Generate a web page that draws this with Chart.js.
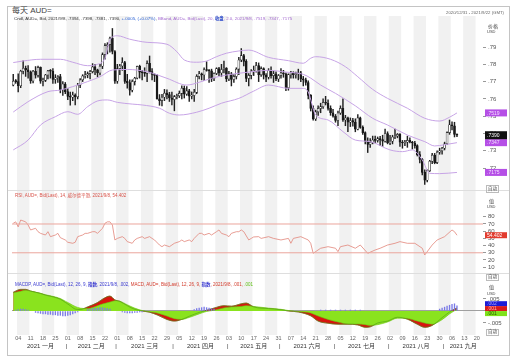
<!DOCTYPE html>
<html>
<head>
<meta charset="utf-8">
<title>AUD= daily</title>
<script src="https://cdn.jsdelivr.net/npm/chart.js@4.4.1/dist/chart.umd.min.js"></script>
<style>
  body { margin: 0; background: #fff; }
  #page { position: relative; width: 514px; height: 362px; overflow: hidden;
          font-family: "Liberation Sans", "Noto Sans CJK SC", sans-serif; color: #333; }
  .frame { position: absolute; left: 7px; top: 6px; width: 503px; height: 350px;
           border: 1px solid #c4c4c4; box-sizing: border-box; }
  .sep { position: absolute; left: 8px; width: 501px; height: 1px; background: #dedede; }
  canvas { position: absolute; left: 0; }
  .txt { position: absolute; white-space: nowrap; line-height: 1; }
  .btn { position: absolute; font-size: 4.5px; line-height: 1; padding: 0.5px 1px;
         border: 0.5px solid #bbb; color: #444; }
</style>
</head>
<body>
<div id="page">
  <div class="frame"></div>
  <canvas id="price" width="514" height="174" style="top:16px"></canvas>
  <canvas id="rsi" width="514" height="83" style="top:190px"></canvas>
  <canvas id="macd" width="514" height="82" style="top:273px"></canvas>
  <div class="sep" style="top:190px"></div>
  <div class="sep" style="top:273px"></div>

  <div class="txt" style="left:12px;top:7px;font-size:8px;color:#444">每天 AUD=</div>
  <div class="txt" style="left:14px;top:17px;font-size:4.4px;color:#333">Cndl, AUD=, Bid, 2021/9/8, .7394, .7398, .7381, .7390, <span style="color:#2a62d4">+.0005, (+0.07%)</span>, <span style="color:#a46bd0">BBand, AUD=, Bid(Last), 20, <b style="color:#3350cc">收盘</b>, 2.0, 2021/9/8, .7519, .7347, .7175</span></div>
  <div class="txt" style="left:446px;top:11px;font-size:4.3px;color:#666">2020/12/31 - 2021/9/22 (GMT)</div>

  <div class="txt" style="left:488px;top:24px;font-size:5px;color:#444">价格</div>
  <div class="txt" style="left:487px;top:30px;font-size:4px;color:#444">USD</div>
  <div class="btn" style="left:486px;top:185px">自动</div>

  <div class="txt" style="left:15px;top:193.5px;font-size:4.5px;color:#d9534a">RSI, AUD=, Bid(Last), 14, 威尔德平滑, 2021/9/8, 54.402</div>
  <div class="txt" style="left:489px;top:198.5px;font-size:5px;color:#444">值</div>
  <div class="txt" style="left:487px;top:205px;font-size:4px;color:#444">USD</div>
  <div class="btn" style="left:486px;top:273.5px">自动</div>

  <div class="txt" style="left:15px;top:282.5px;font-size:4.5px"><span style="color:#3a3ad0">MACDP, AUD=, Bid(Last), 12, 26, 9, <b>指数</b>, 2021/9/8, .002, </span><span style="color:#d23a2a">MACD, AUD=, Bid(Last), 12, 26, 9, <b style="color:#3a3ad0">指数</b>, 2021/9/8, .001, </span><span style="color:#62c21a">.001</span></div>
  <div class="txt" style="left:489px;top:285px;font-size:5px;color:#444">值</div>
  <div class="txt" style="left:487px;top:291.5px;font-size:4px;color:#444">USD</div>
  <div class="btn" style="left:486px;top:328.5px">自动</div>
</div>

<script>
// ---- daily candles, one entry per weekday from 2020/12/31 to 2021/9/8 ----
const open = [
  .7680,.7702,.7700,.7676,.7760,.7777,.7768,.7757,.7704,.7760,
  .7737,.7782,.7703,.7707,.7738,.7762,.7760,.7712,.7722,.7729,
  .7653,.7686,.7642,.7615,.7610,.7622,.7612,.7680,.7710,.7733,
  .7738,.7746,.7758,.7785,.7768,.7750,.7789,.7856,.7908,.7914,
  .7950,.7874,.7702,.7775,.7790,.7810,.7701,.7694,.7650,.7700,
  .7720,.7788,.7755,.7752,.7748,.7805,.7758,.7742,.7736,.7600,
  .7590,.7610,.7633,.7625,.7605,.7597,.7613,.7618,.7632,.7661,
  .7628,.7646,.7616,.7620,.7638,.7730,.7745,.7738,.7770,.7764,
  .7762,.7716,.7747,.7775,.7750,.7770,.7778,.7715,.7745,.7712,
  .7730,.7772,.7825,.7850,.7817,.7718,.7736,.7760,.7760,.7793,
  .7740,.7775,.7737,.7725,.7765,.7735,.7745,.7715,.7735,.7750,
  .7745,.7665,.7740,.7750,.7740,.7745,.7750,.7715,.7710,.7695,
  .7620,.7545,.7484,.7525,.7545,.7555,.7580,.7575,.7545,.7520,
  .7500,.7475,.7518,.7545,.7478,.7490,.7465,.7475,.7465,.7425,
  .7490,.7435,.7405,.7355,.7337,.7350,.7362,.7360,.7370,.7365,
  .7355,.7400,.7345,.7355,.7380,.7385,.7395,.7350,.7345,.7350,
  .7360,.7350,.7345,.7330,.7278,.7250,.7175,.7130,.7185,.7240,
  .7275,.7232,.7292,.7300,.7315,.7340,.7405,.7450,.7445,.7394
];
const high = [
  .7742,.7712,.7745,.7766,.7820,.7790,.7792,.7762,.7765,.7787,
  .7790,.7785,.7720,.7742,.7765,.7770,.7775,.7740,.7735,.7742,
  .7700,.7695,.7660,.7640,.7639,.7630,.7690,.7718,.7740,.7760,
  .7756,.7765,.7804,.7800,.7772,.7800,.7866,.7920,.7925,.7957,
  .8007,.7880,.7800,.7800,.7838,.7817,.7742,.7710,.7710,.7725,
  .7790,.7795,.7765,.7780,.7820,.7848,.7775,.7745,.7740,.7625,
  .7627,.7655,.7652,.7638,.7640,.7620,.7628,.7646,.7675,.7675,
  .7671,.7655,.7640,.7655,.7740,.7760,.7750,.7780,.7815,.7770,
  .7772,.7750,.7780,.7782,.7800,.7818,.7781,.7760,.7753,.7740,
  .7780,.7840,.7891,.7858,.7828,.7746,.7770,.7790,.7812,.7808,
  .7786,.7780,.7746,.7775,.7785,.7760,.7756,.7741,.7775,.7765,
  .7750,.7745,.7760,.7757,.7755,.7772,.7760,.7730,.7720,.7705,
  .7625,.7560,.7535,.7560,.7575,.7600,.7615,.7595,.7560,.7540,
  .7510,.7530,.7560,.7600,.7505,.7495,.7490,.7488,.7485,.7510,
  .7495,.7445,.7410,.7375,.7370,.7385,.7385,.7380,.7383,.7390,
  .7425,.7410,.7390,.7390,.7425,.7400,.7400,.7360,.7360,.7385,
  .7375,.7355,.7355,.7335,.7295,.7255,.7190,.7190,.7245,.7285,
  .7285,.7300,.7315,.7320,.7350,.7410,.7478,.7468,.7465,.7398
];
const low = [
  .7675,.7690,.7640,.7665,.7745,.7730,.7720,.7690,.7692,.7720,
  .7725,.7690,.7675,.7700,.7715,.7720,.7690,.7690,.7695,.7635,
  .7620,.7630,.7595,.7564,.7590,.7565,.7600,.7665,.7700,.7720,
  .7722,.7715,.7750,.7740,.7727,.7738,.7775,.7830,.7860,.7870,
  .7860,.7690,.7690,.7740,.7765,.7690,.7662,.7622,.7640,.7680,
  .7715,.7720,.7710,.7730,.7700,.7750,.7710,.7700,.7598,.7563,
  .7560,.7590,.7600,.7585,.7565,.7531,.7600,.7608,.7600,.7605,
  .7620,.7586,.7600,.7585,.7630,.7715,.7710,.7705,.7760,.7695,
  .7700,.7705,.7740,.7735,.7730,.7750,.7700,.7705,.7675,.7695,
  .7715,.7740,.7815,.7790,.7700,.7675,.7715,.7735,.7755,.7700,
  .7730,.7715,.7700,.7715,.7720,.7695,.7705,.7700,.7720,.7725,
  .7648,.7650,.7720,.7720,.7720,.7710,.7700,.7675,.7680,.7600,
  .7530,.7477,.7475,.7505,.7520,.7545,.7565,.7535,.7505,.7495,
  .7465,.7445,.7510,.7470,.7445,.7410,.7440,.7443,.7410,.7420,
  .7430,.7395,.7340,.7290,.7320,.7340,.7345,.7350,.7330,.7325,
  .7350,.7340,.7335,.7340,.7370,.7375,.7325,.7315,.7330,.7320,
  .7345,.7310,.7315,.7270,.7230,.7160,.7106,.7120,.7180,.7225,
  .7225,.7225,.7280,.7280,.7305,.7335,.7395,.7420,.7380,.7381
];
const close = [
  .7702,.7700,.7676,.7760,.7777,.7768,.7757,.7704,.7760,.7737,
  .7782,.7703,.7707,.7738,.7762,.7760,.7712,.7722,.7729,.7653,
  .7686,.7642,.7615,.7610,.7622,.7612,.7680,.7710,.7733,.7738,
  .7746,.7758,.7785,.7768,.7750,.7789,.7856,.7908,.7914,.7950,
  .7874,.7702,.7775,.7790,.7810,.7701,.7694,.7650,.7700,.7720,
  .7788,.7755,.7752,.7748,.7805,.7758,.7742,.7736,.7600,.7590,
  .7610,.7633,.7625,.7605,.7597,.7613,.7618,.7632,.7661,.7628,
  .7646,.7616,.7620,.7638,.7730,.7745,.7738,.7770,.7764,.7762,
  .7716,.7747,.7775,.7750,.7770,.7778,.7715,.7745,.7712,.7730,
  .7772,.7825,.7850,.7817,.7718,.7736,.7760,.7760,.7793,.7740,
  .7775,.7737,.7725,.7765,.7735,.7745,.7715,.7735,.7750,.7745,
  .7665,.7740,.7750,.7740,.7745,.7750,.7715,.7710,.7695,.7620,
  .7545,.7484,.7525,.7545,.7555,.7580,.7575,.7545,.7520,.7500,
  .7475,.7518,.7545,.7478,.7490,.7465,.7475,.7465,.7425,.7490,
  .7435,.7405,.7355,.7337,.7350,.7362,.7360,.7370,.7365,.7355,
  .7400,.7345,.7355,.7380,.7385,.7395,.7350,.7345,.7350,.7360,
  .7350,.7345,.7330,.7278,.7250,.7175,.7130,.7185,.7240,.7275,
  .7232,.7292,.7300,.7315,.7340,.7405,.7450,.7445,.7394,.7390
];

// ---- bollinger bands (20, 2.0) at these day positions ----
const bbUpperDays = [0,4,11,19,24,30,34,37,39,42,47,54,62,66,69,74,78,82,86,91,95,103,111,117,120,122,128,134,139,145,151,159,166,172,176,179];
const bbUpper = [.7810,.7819,.7829,.7829,.7812,.7792,.7800,.7835,.7940,.7965,.7945,.7927,.7916,.7873,.7825,.7812,.7819,.7844,.7864,.7877,.7882,.7840,.7821,.7806,.7835,.7844,.7829,.7786,.7728,.7655,.7603,.7546,.7488,.7472,.7494,.7519];
const bbMidDays = [0,6,14,19,24,30,35,40,46,54,62,70,75,80,86,91,96,103,110,117,120,124,130,138,145,151,159,166,170,174,179];
const bbMid = [.7524,.7584,.7642,.7651,.7671,.7700,.7728,.7767,.7770,.7757,.7719,.7680,.7696,.7719,.7738,.7748,.7757,.7765,.7755,.7742,.7720,.7680,.7632,.7560,.7488,.7449,.7391,.7353,.7328,.7335,.7347];
const bbLowerDays = [0,6,11,17,22,26,30,34,38,42,48,52,59,63,67,74,79,84,91,97,103,111,117,119,122,127,133,138,144,152,157,161,165,168,172,179];
const bbLower = [.7305,.7362,.7449,.7497,.7526,.7511,.7555,.7588,.7594,.7580,.7570,.7565,.7546,.7517,.7507,.7523,.7546,.7575,.7603,.7645,.7680,.7661,.7661,.7640,.7507,.7478,.7411,.7362,.7353,.7305,.7295,.7305,.7247,.7170,.7168,.7175];

// ---- RSI(14) ----
const rsiDays = [0,1,2,3,5,6,7,9,10,11,13,14,15,17,18,19,21,22,24,25,26,28,29,30,32,33,34,36,37,38,39,40,41,42,44,45,46,48,49,50,52,53,55,56,57,59,60,61,63,64,65,67,68,69,71,72,73,75,76,77,79,80,82,83,84,86,87,88,90,91,92,93,95,96,97,99,100,103,105,108,111,112,113,116,119,120,121,124,127,130,131,132,135,138,140,143,146,148,151,154,156,159,162,165,166,169,171,174,177,178,179];
const rsiValues = [71,73,66,75.5,73,68.6,61.7,64,59.3,57,54.7,59.3,52.4,54.7,57,51,47.8,44.6,43.2,44.6,52.4,54.7,57,57,59.3,59.3,57,64,71,73,73,68.6,47.8,50,52.4,50,45.5,43.2,47.8,50,52.4,50,52.4,50,47.8,40.8,38.5,40.8,38.5,40.8,43.2,45.5,47.8,45.5,47.8,45.5,50,57,57,54.7,57,54.7,59.3,61.7,57,54.7,52.4,57,59.3,59.3,61.7,59.3,47.8,50,52,52.4,50,52.4,50,47.8,50,43.2,50,52.4,47.8,43.2,29.3,36.3,38.5,36.3,31.6,38.5,40.8,36.3,40.8,29.3,33.9,36.3,40.8,43.2,45.5,43.2,43.2,36.3,27,40.8,47.8,52.4,61.7,59.3,54.4];
const rsiLevels = [70, 30];

// ---- MACD(12, 26, 9) ----
const macdDays = [0,3,5,7,11,13,16,19,21,23,25,27,30,34,36,39,41,43,46,49,52,55,58,62,65,68,71,75,78,81,85,88,92,94,97,103,108,111,115,120,123,127,131,135,139,142,144,147,151,155,159,163,166,169,173,176,178,179];
const macdValues = [.0078,.0090,.0090,.0083,.0073,.0066,.0059,.0049,.0036,.0022,.0008,.0006,.0017,.0035,.0049,.0062,.0046,.0040,.0022,.0007,.0000,-.0005,-.0016,-.0035,-.0042,-.0035,-.0022,-.0006,.0003,.0012,.0022,.0020,.0030,.0033,.0017,.0010,.0005,.0000,-.0004,-.0020,-.0042,-.0051,-.0055,-.0055,-.0058,-.0068,-.0066,-.0050,-.0042,-.0026,-.0034,-.0055,-.0068,-.0060,-.0028,-.0004,.0008,.0012];
const signalValues = [.0076,.0082,.0086,.0083,.0074,.0068,.0061,.0052,.0041,.0030,.0019,.0012,.0010,.0022,.0029,.0037,.0043,.0041,.0026,.0012,.0002,-.0003,-.0008,-.0021,-.0032,-.0035,-.0027,-.0012,-.0002,.0003,.0013,.0017,.0019,.0022,.0019,.0012,.0007,.0002,-.0002,-.0008,-.0021,-.0035,-.0046,-.0054,-.0054,-.0057,-.0060,-.0057,-.0046,-.0030,-.0031,-.0042,-.0050,-.0055,-.0036,-.0012,.0001,.0006];
const histDays = [1,2,3,4,5,6,9,10,11,12,13,14,15,16,17,18,19,20,21,22,23,24,25,26,30,31,32,33,34,35,36,37,38,39,44,45,46,47,48,49,50,51,52,73,74,75,76,77,78,79,80,81,124,126,128,130,132,134,136,138,140,172,173,174,175,176,177,178,179];
const histValues = [.0004,.0006,.0008,.0008,.0006,.0004,-.0006,-.0008,-.0010,-.0012,-.0012,-.0014,-.0014,-.0016,-.0016,-.0018,-.0018,-.0020,-.0020,-.0018,-.0016,-.0012,-.0008,-.0004,.0006,.0008,.0010,.0012,.0012,.0014,.0014,.0012,.0010,.0008,-.0004,-.0006,-.0008,-.0008,-.0008,-.0006,-.0006,-.0004,-.0004,.0006,.0010,.0012,.0014,.0016,.0014,.0012,.0010,.0008,.0004,.0004,.0004,.0004,.0004,.0004,.0004,.0004,.0004,.0008,.0012,.0016,.0020,.0024,.0028,.0030,.0022];

// ---- axis labels ----
const priceTicks = [.72,.73,.74,.75,.76,.77,.78,.79];
const rsiTicks = [10,20,30,40,50,60,70,80];
const macdTicks = [-.005, 0, .005];
const monthNames = ['一月','二月','三月','四月','五月','六月','七月','八月','九月','十月','十一月','十二月'];

// trading calendar (weekdays) covering the whole x range
const calendar = [];
for (let d = new Date(2020, 11, 31); d <= new Date(2021, 8, 22); d.setDate(d.getDate() + 1)) {
  if (d.getDay() !== 0 && d.getDay() !== 6) calendar.push(new Date(d));
}
const mondays = calendar.map((d, i) => d.getDay() === 1 ? i : -1).filter(i => i >= 0);
const grayWeeks = mondays.filter((_, k) => k % 2 === 0);
const monthStarts = [];
calendar.forEach((d, i) => {
  if (i > 0 && d.getMonth() !== calendar[i - 1].getMonth()) monthStarts.push(i);
});
const monthCenters = monthStarts.map((s, k) => (s + (k + 1 < monthStarts.length ? monthStarts[k + 1] : calendar.length) - 1) / 2);

// one bottom axis: day numbers on the first line, month names and separators on the second
const xTicks = [
  ...mondays.map(i => ({value: i, kind: 'd', text: String(calendar[i].getDate()).padStart(2, '0')})),
  ...monthCenters.map((v, k) => ({value: v, kind: 'm', text: ['', '2021 ' + monthNames[calendar[monthStarts[k]].getMonth()]]})),
  ...monthStarts.slice(1).map(s => ({value: s - 0.5, kind: 's', text: ['', '|']}))
].sort((a, b) => a.value - b.value);

const X_MIN = -0.5, X_MAX = calendar.length - 0.5;
const days = close.map((_, i) => i);
const pts = (xs, ys) => xs.map((x, i) => ({x, y: ys[i]}));

Chart.defaults.font.family = '"Liberation Sans", "Noto Sans CJK SC", sans-serif';

// light grey band on every other week, behind everything
const stripes = {
  id: 'stripes',
  beforeDraw(chart) {
    const {ctx, chartArea: a, scales: {x}} = chart;
    ctx.save();
    ctx.fillStyle = '#f1f1f1';
    grayWeeks.forEach(m => {
      const x0 = x.getPixelForValue(m - 0.5), x1 = x.getPixelForValue(m + 4.5);
      ctx.fillRect(x0, a.top, x1 - x0, a.bottom - a.top);
    });
    ctx.restore();
  }
};

// last-value tags on the right axis
function valueBoxes(items) {
  return {
    id: 'valueBoxes',
    afterDraw(chart) {
      const ys = chart.scales.y, ctx = chart.ctx;
      ctx.save();
      ctx.font = '5px "Liberation Sans"';
      ctx.textBaseline = 'middle';
      items.forEach(b => {
        const y = ys.getPixelForValue(b.v) + (b.dy || 0);
        ctx.fillStyle = b.bg;
        ctx.fillRect(ys.left + 2, y - b.h / 2, 22, b.h);
        ctx.fillStyle = b.fg;
        ctx.fillText(b.text, ys.left + 4, y + 0.3);
      });
      ctx.restore();
    }
  };
}

function rightAxis(min, max, ticks, fmt) {
  return {
    position: 'right', min, max, beginAtZero: false,
    afterBuildTicks: s => { s.ticks = ticks.map(v => ({value: v})); },
    afterFit: s => { s.width = 31; s.paddingTop = 0; s.paddingBottom = 0; },
    ticks: {font: {size: 6}, color: '#555', padding: 2, callback: fmt},
    grid: {drawOnChartArea: false, tickLength: 3, color: '#999'},
    border: {display: false}
  };
}
const hiddenX = {type: 'linear', min: X_MIN, max: X_MAX, offset: false, display: false};
const base = {responsive: false, animation: false, events: [], devicePixelRatio: 1,
              layout: {padding: {left: 12, right: 0, top: 0, bottom: 0}}};

// ---- price panel ----
const bandLine = (xs, ys) => ({type: 'line', data: pts(xs, ys), borderColor: '#c7a4e6', borderWidth: 1,
  pointRadius: 0, cubicInterpolationMode: 'monotone', fill: false, order: 0});
new Chart(document.getElementById('price'), {
  type: 'bar',
  data: {datasets: [
    bandLine(bbUpperDays, bbUpper),
    bandLine(bbMidDays, bbMid),
    bandLine(bbLowerDays, bbLower),
    {label: 'body', data: days.map(i => ({x: i, y: [open[i], close[i]]})),
     backgroundColor: c => close[c.dataIndex] >= open[c.dataIndex] ? '#ffffff' : '#1a1a1a',
     borderColor: '#1a1a1a', borderWidth: 0.6, borderSkipped: false, minBarLength: 1,
     barThickness: 2, grouped: false, order: 1},
    {label: 'wick', data: days.map(i => ({x: i, y: [low[i], high[i]]})),
     backgroundColor: '#222', barThickness: 0.8, grouped: false, order: 2}
  ]},
  options: Object.assign({}, base, {
    plugins: {legend: {display: false}, tooltip: {enabled: false}},
    scales: {
      x: hiddenX,
      y: rightAxis(0.70734, 0.80792, priceTicks, v => v.toFixed(2).slice(1))
    }
  }),
  plugins: [stripes, valueBoxes([
    {v: .7519, bg: '#b54fe6', fg: '#f4e0ff', text: '.7519', h: 7},
    {v: .7347, bg: '#b54fe6', fg: '#f4e0ff', text: '.7347', h: 7},
    {v: .7390, bg: '#111111', fg: '#ffffff', text: '.7390', h: 8},
    {v: .7175, bg: '#b54fe6', fg: '#f4e0ff', text: '.7175', h: 7}
  ])]
});

// ---- RSI panel ----
new Chart(document.getElementById('rsi'), {
  type: 'line',
  data: {datasets: [
    ...rsiLevels.map(l => ({data: [{x: X_MIN, y: l}, {x: X_MAX, y: l}], borderColor: '#eba59c',
      borderWidth: 1, pointRadius: 0})),
    {data: pts(rsiDays, rsiValues), borderColor: '#e2857a', borderWidth: 0.8, pointRadius: 0, tension: 0}
  ]},
  options: Object.assign({}, base, {
    plugins: {legend: {display: false}, tooltip: {enabled: false}},
    scales: {
      x: hiddenX,
      y: rightAxis(1.94, 117.2, rsiTicks, v => String(v))
    }
  }),
  plugins: [stripes, valueBoxes([{v: 54.402, bg: '#e23b2e', fg: '#ffffff', text: '54.402', h: 6}])]
});

// ---- MACD panel ----
const macdAxis = rightAxis(-0.0100, 0.01583, macdTicks,
  v => v === 0 ? '0' : (v < 0 ? '-' : '') + Math.abs(v).toFixed(3).slice(1));
macdAxis.grid = {drawOnChartArea: true, tickLength: 3, tickColor: '#999',
  color: c => c.tick && c.tick.value === 0 ? '#a0a0a0' : 'rgba(0,0,0,0)'};
new Chart(document.getElementById('macd'), {
  type: 'bar',
  data: {datasets: [
    {label: 'MACDP', data: pts(histDays, histValues), backgroundColor: '#7a7ae6',
     barThickness: 0.7, grouped: false, order: 0},
    {type: 'line', label: 'MACD line', data: pts(macdDays, macdValues), borderColor: '#4d9a18',
     borderWidth: 0.6, pointRadius: 0, cubicInterpolationMode: 'monotone', fill: false, order: 1},
    {type: 'line', label: 'signal', data: pts(macdDays, signalValues), borderColor: '#6cc414',
     backgroundColor: '#8ae31e', borderWidth: 0.6, pointRadius: 0, cubicInterpolationMode: 'monotone',
     fill: 'origin', order: 2},
    {type: 'line', label: 'MACD', data: pts(macdDays, macdValues), borderColor: '#b01010',
     backgroundColor: '#d8140f', borderWidth: 0.6, pointRadius: 0, cubicInterpolationMode: 'monotone',
     fill: 'origin', order: 3}
  ]},
  options: Object.assign({}, base, {
    plugins: {legend: {display: false}, tooltip: {enabled: false}},
    scales: {
      x: {type: 'linear', min: X_MIN, max: X_MAX, offset: false, position: 'bottom',
          afterBuildTicks: s => { s.ticks = xTicks.map(t => Object.assign({}, t)); },
          afterFit: s => { s.height = 20; s.paddingLeft = 0; s.paddingRight = 0; },
          ticks: {autoSkip: false, maxRotation: 0, minRotation: 0, padding: 0.5,
                  font: c => ({size: c.tick && c.tick.kind === 'd' ? 5.5 : 6}),
                  color: c => c.tick && c.tick.kind === 'd' ? '#666' : '#333',
                  callback: (v, i, ticks) => ticks[i].text},
          grid: {display: false, drawTicks: false, tickLength: 0}, border: {display: false}},
      y: macdAxis
    }
  }),
  plugins: [stripes, valueBoxes([
    {v: .002, dy: -2.5, bg: '#1c1cd6', fg: '#9fa0ff', text: '.002', h: 5},
    {v: .001, dy: 0, bg: '#d81b1b', fg: '#ffb0b0', text: '.001', h: 5},
    {v: .001, dy: 5, bg: '#7ee21a', fg: '#2a5a00', text: '.001', h: 5}
  ])]
});
</script>
</body>
</html>
